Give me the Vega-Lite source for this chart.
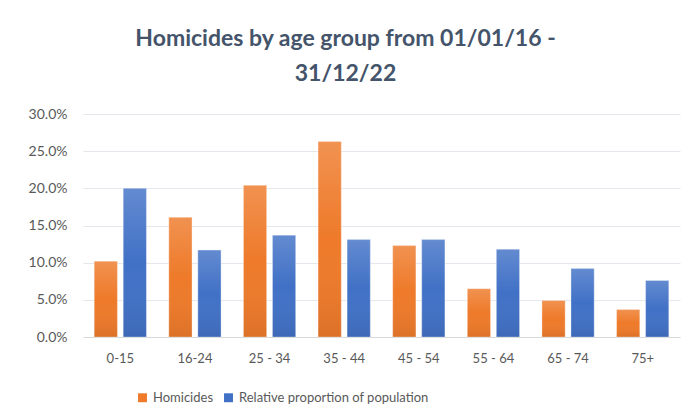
{
  "$schema": "https://vega.github.io/schema/vega-lite/v6.json",
  "autosize": "none",
  "width": 597,
  "height": 223,
  "padding": {"left": 83, "top": 114, "right": 9, "bottom": 80},
  "background": "white",
  "config": {"view": {"stroke": null}},
  "title": {
    "text": ["Homicides by age group from 01/01/16 -", "31/12/22"],
    "font": "Lato",
    "fontSize": 23,
    "fontWeight": "bold",
    "color": "#44546A",
    "anchor": "middle",
    "frame": "group",
    "dx": -36,
    "offset": 21,
    "lineHeight": 35
  },
  "data": {
    "values": [
      {"age": "0-15", "series": "Homicides", "value": 0.102},
      {"age": "0-15", "series": "Relative proportion of population", "value": 0.2},
      {"age": "16-24", "series": "Homicides", "value": 0.161},
      {"age": "16-24", "series": "Relative proportion of population", "value": 0.117},
      {"age": "25 - 34", "series": "Homicides", "value": 0.204},
      {"age": "25 - 34", "series": "Relative proportion of population", "value": 0.137},
      {"age": "35 - 44", "series": "Homicides", "value": 0.263},
      {"age": "35 - 44", "series": "Relative proportion of population", "value": 0.131},
      {"age": "45 - 54", "series": "Homicides", "value": 0.123},
      {"age": "45 - 54", "series": "Relative proportion of population", "value": 0.131},
      {"age": "55 - 64", "series": "Homicides", "value": 0.065},
      {"age": "55 - 64", "series": "Relative proportion of population", "value": 0.118},
      {"age": "65 - 74", "series": "Homicides", "value": 0.049},
      {"age": "65 - 74", "series": "Relative proportion of population", "value": 0.092},
      {"age": "75+", "series": "Homicides", "value": 0.037},
      {"age": "75+", "series": "Relative proportion of population", "value": 0.076}
    ]
  },
  "encoding": {
    "x": {
      "field": "age",
      "type": "nominal",
      "sort": null,
      "scale": {"paddingInner": 0.3, "paddingOuter": 0.15},
      "axis": {
        "title": null,
        "labelAngle": 0,
        "labelFont": "Lato",
        "labelFontSize": 13,
        "labelColor": "#595959",
        "labelPadding": 15,
        "ticks": false,
        "domainColor": "#D9D9D9",
        "domainWidth": 1
      }
    },
    "xOffset": {
      "field": "series",
      "type": "nominal",
      "scale": {"paddingInner": 0.2}
    },
    "y": {
      "field": "value",
      "type": "quantitative",
      "scale": {"domain": [0, 0.3]},
      "axis": {
        "title": null,
        "format": ".1%",
        "values": [0, 0.05, 0.1, 0.15, 0.2, 0.25, 0.3],
        "labelFont": "Lato",
        "labelFontSize": 14,
        "labelColor": "#595959",
        "labelPadding": 16,
        "ticks": false,
        "domain": false,
        "gridColor": "#E4E7EC",
        "gridWidth": 1
      }
    }
  },
  "layer": [
    {
      "mark": {"type": "bar", "stroke": "white", "strokeOpacity": 0.35, "strokeWidth": 1},
      "encoding": {
        "color": {
          "field": "series",
          "type": "nominal",
          "scale": {
            "domain": ["Homicides", "Relative proportion of population"],
            "range": ["#EE7A2A", "#4171C6"]
          },
          "legend": {
            "title": null,
            "orient": "none",
            "direction": "horizontal",
            "legendX": 53,
            "legendY": 277,
            "symbolType": "square",
            "symbolSize": 80,
            "symbolStrokeWidth": 0,
            "labelFont": "Lato",
            "labelFontSize": 13,
            "labelColor": "#595959",
            "labelLimit": 0,
            "columnPadding": 8,
            "labelOffset": 4
          }
        }
      }
    },
    {
      "mark": {
        "type": "bar",
        "color": {
          "gradient": "linear",
          "x1": 0, "y1": 0, "x2": 0, "y2": 1,
          "stops": [
            {"offset": 0, "color": "rgba(255,255,255,0.18)"},
            {"offset": 0.5, "color": "rgba(255,255,255,0.0)"},
            {"offset": 1, "color": "rgba(0,0,0,0.08)"}
          ]
        }
      }
    }
  ]
}
